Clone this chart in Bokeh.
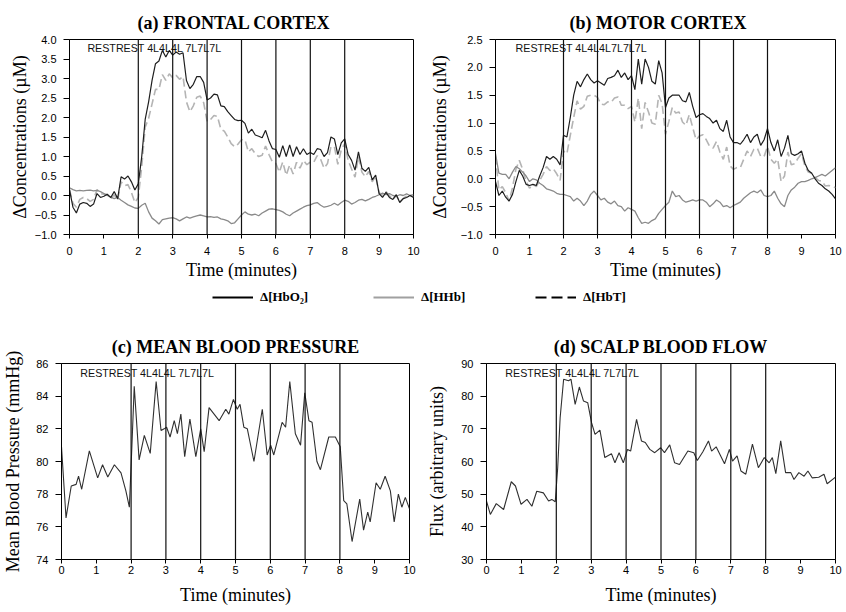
import numpy as np
from bokeh.plotting import figure
from bokeh.models import Span, Label, Legend, LegendItem, FixedTicker, Range1d
from bokeh.layouts import column, row
from bokeh.embed import file_html
from bokeh.resources import INLINE

# ---------------- data ----------------
# sampling grid (minutes) for the NIRS traces
t_nirs = np.round(np.arange(101) * 0.1, 1)

fc_hbo2 = [0.15, -0.3, -0.45, -0.22, -0.18, -0.2, -0.28, -0.22, 0.05, -0.05,
           -0.02, 0.03, -0.05, 0.1, -0.08, 0.48, 0.42, 0.5, 0.35, 0.14,
           0.3, 1.0, 1.95, 2.4, 2.95, 3.38, 3.45, 3.72, 3.55, 3.72,
           3.6, 3.68, 3.62, 3.66, 2.95, 2.74, 2.85, 3.05, 3.05, 2.9,
           2.45, 2.5, 2.6, 2.58, 2.3, 2.28, 2.15, 2.05, 1.95, 1.92,
           1.93, 1.85, 1.6, 1.7, 1.55, 1.52, 1.48, 1.67, 1.4, 1.2,
           1.18, 0.98, 1.28, 1.0, 1.3, 1.0, 1.25, 1.05, 1.2, 1.05,
           1.1, 1.05, 1.2, 1.18, 1.0, 1.1, 1.5, 1.45, 1.05, 1.35,
           1.45, 1.05, 0.9, 0.65, 1.12, 0.7, 0.62, 0.72, 0.4, 0.52,
           0.05, -0.05, 0.08, -0.05, -0.1, 0.02, -0.18, -0.08, -0.05, 0.0,
           -0.05]
fc_hhb = [0.2, 0.15, 0.12, 0.13, 0.12, 0.13, 0.14, 0.12, 0.13, 0.1,
          0.05, 0.0, -0.04, -0.08, -0.05, -0.12, -0.18, -0.24, -0.28, -0.32,
          -0.33, -0.25, -0.2, -0.42, -0.58, -0.65, -0.73, -0.62, -0.6, -0.58,
          -0.57, -0.6, -0.65, -0.6, -0.55, -0.58, -0.55, -0.52, -0.5, -0.52,
          -0.55, -0.54, -0.56, -0.55, -0.6, -0.62, -0.65, -0.72, -0.7, -0.6,
          -0.5, -0.42, -0.48, -0.5, -0.48, -0.52, -0.45, -0.4, -0.35, -0.34,
          -0.36, -0.38, -0.42, -0.48, -0.52, -0.45, -0.4, -0.35, -0.3, -0.26,
          -0.24, -0.2, -0.18, -0.25, -0.3, -0.28, -0.25, -0.2, -0.25, -0.18,
          -0.12, -0.15, -0.22, -0.18, -0.12, -0.1, -0.14, -0.1, -0.05, -0.02,
          0.02, 0.06, 0.02, 0.05, 0.0, -0.02, 0.02, 0.0, 0.04, 0.0,
          0.02]
fc_hbt = [0.15, -0.2, -0.3, -0.1, -0.05, -0.08, -0.15, -0.1, 0.15, 0.05,
          0.03, 0.03, -0.08, 0.02, -0.12, 0.35, 0.25, 0.28, 0.08, -0.18,
          -0.05, 0.75, 1.75, 1.98, 2.35, 2.72, 2.72, 3.1, 2.95, 3.12,
          3.02, 3.08, 2.98, 3.05, 2.4, 2.15, 2.3, 2.52, 2.55, 2.38,
          1.9, 1.95, 2.05, 2.03, 1.7, 1.65, 1.5, 1.33, 1.25, 1.32,
          1.43, 1.43, 1.12, 1.2, 1.07, 1.0, 1.03, 1.27, 1.05, 0.86,
          0.82, 0.6, 0.86, 0.52, 0.78, 0.55, 0.85, 0.7, 0.9, 0.79,
          0.86, 0.85, 1.02, 0.93, 0.7, 0.82, 1.25, 1.25, 0.8, 1.17,
          1.33, 0.9, 0.68, 0.47, 1.0, 0.6, 0.48, 0.62, 0.35, 0.5,
          0.07, 0.01, 0.1, 0.0, -0.1, 0.0, -0.16, -0.08, -0.01, 0.0,
          -0.03]

mc_hbo2 = [-0.05, -0.3, -0.22, -0.33, -0.4, -0.28, -0.05, 0.15, 0.05, -0.1,
           -0.12, -0.1, -0.12, 0.05, 0.2, 0.4, 0.35, 0.4, 0.35, 0.25,
           0.78, 0.75, 1.1, 1.5, 1.75, 1.65, 1.78, 1.88, 1.78, 1.72,
           1.76, 1.72, 1.68, 1.8, 1.82, 1.85, 1.95, 1.82, 1.9, 1.78,
           1.85, 1.6, 2.15, 1.7, 2.15, 2.0, 1.75, 1.7, 2.12, 1.9,
           1.28, 1.45, 1.5, 1.5, 1.5, 1.4, 1.38, 1.55, 1.3, 1.1,
           1.15, 1.17, 1.12, 1.08, 1.0, 1.05, 0.9, 0.85, 1.05, 0.75,
           0.65, 0.65, 0.62, 0.7, 0.8, 0.65, 0.75, 0.8, 0.6, 0.7,
           0.9, 0.65, 0.5, 0.7, 0.4, 0.55, 0.78, 0.45, 0.42, 0.45,
           0.5, 0.28, 0.15, 0.1, 0.0, -0.08, -0.12, -0.18, -0.22, -0.28,
           -0.36]
mc_hhb = [0.45, 0.1, 0.08, 0.08, 0.0, 0.12, 0.22, 0.18, 0.12, 0.05,
          -0.05, 0.0, -0.02, -0.08, -0.12, -0.18, -0.2, -0.22, -0.26, -0.28,
          -0.28, -0.3, -0.32, -0.4, -0.35, -0.4, -0.48, -0.4, -0.28, -0.22,
          -0.3, -0.38, -0.35, -0.42, -0.45, -0.4, -0.48, -0.5, -0.58, -0.52,
          -0.55, -0.58, -0.7, -0.8, -0.78, -0.8, -0.75, -0.72, -0.62, -0.55,
          -0.48, -0.42, -0.22, -0.32, -0.3, -0.38, -0.42, -0.4, -0.38, -0.4,
          -0.38, -0.38, -0.42, -0.5, -0.45, -0.38, -0.42, -0.5, -0.48, -0.52,
          -0.48, -0.45, -0.42, -0.35, -0.3, -0.25, -0.22, -0.25, -0.2, -0.3,
          -0.32, -0.3, -0.22, -0.35, -0.45, -0.5, -0.3, -0.2, -0.15, -0.08,
          -0.05, -0.05, -0.03, 0.0, 0.02, 0.05, 0.08, 0.05, 0.1, 0.15,
          0.2]
mc_hbt = [0.4, -0.2, -0.14, -0.25, -0.4, -0.16, 0.17, 0.33, 0.17, -0.05,
          -0.17, -0.1, -0.14, -0.03, 0.08, 0.22, 0.15, 0.18, 0.09, -0.03,
          0.5, 0.45, 0.78, 1.1, 1.4, 1.25, 1.3, 1.48, 1.5, 1.5,
          1.46, 1.34, 1.33, 1.38, 1.37, 1.45, 1.47, 1.32, 1.32, 1.26,
          1.3, 1.02, 1.45, 0.9, 1.37, 1.2, 1.0, 0.98, 1.5, 1.35,
          0.8, 1.03, 1.28, 1.18, 1.2, 1.02, 0.96, 1.15, 0.92, 0.7,
          0.77, 0.79, 0.7, 0.58, 0.55, 0.67, 0.48, 0.35, 0.57, 0.23,
          0.17, 0.2, 0.2, 0.35, 0.5, 0.4, 0.53, 0.55, 0.4, 0.4,
          0.58, 0.35, 0.28, 0.35, -0.05, 0.05, 0.48, 0.25, 0.27, 0.37,
          0.45, 0.23, 0.12, 0.1, 0.02, -0.03, -0.04, -0.13, -0.12, -0.13,
          -0.16]

bp_t = [0, 0.13, 0.28, 0.42, 0.49, 0.58, 0.8, 1.04, 1.18, 1.33,
        1.52, 1.71, 1.85, 1.95, 2.02, 2.09, 2.23, 2.38, 2.55, 2.72,
        2.86, 2.95, 3.02, 3.12, 3.24, 3.33, 3.43, 3.54, 3.69, 3.86,
        4.0, 4.1, 4.24, 4.53, 4.72, 4.81, 4.94, 5.05, 5.13, 5.24,
        5.34, 5.53, 5.77, 5.91, 6.01, 6.1, 6.34, 6.44, 6.56, 6.72,
        6.87, 6.99, 7.11, 7.2, 7.34, 7.44, 7.68, 7.87, 8.01, 8.11,
        8.2, 8.35, 8.57, 8.68, 8.8, 8.87, 9.04, 9.16, 9.3, 9.45,
        9.56, 9.68, 9.78, 9.88, 10.0]
bp_v = [80.9, 76.55, 78.5, 78.6, 79.1, 78.3, 80.65, 79.0, 79.8, 79.05,
        79.8, 79.3, 78.2, 77.2, 80.8, 84.6, 80.1, 81.6, 80.5, 84.9,
        81.9, 82.0, 82.1, 81.5, 82.5, 81.7, 82.9, 80.3, 82.6, 80.3,
        82.0, 80.6, 83.3, 82.5, 83.2, 82.9, 83.8, 83.2, 83.5, 82.1,
        82.0, 80.0, 83.2, 80.4, 81.0, 80.4, 82.4, 82.1, 84.9, 81.7,
        81.0, 84.2, 82.5, 82.4, 80.0, 79.5, 81.5, 81.5, 80.9, 77.6,
        77.4, 75.1, 77.7, 75.8, 76.9, 76.3, 78.7, 78.3, 79.1, 78.2,
        76.3, 78.0, 77.2, 77.8, 77.1]

fl_t = [0, 0.11, 0.28, 0.49, 0.71, 0.83, 0.99, 1.16, 1.3, 1.44,
        1.63, 1.78, 1.87, 1.97, 2.04, 2.11, 2.21, 2.35, 2.42, 2.54,
        2.66, 2.78, 2.9, 3.01, 3.11, 3.25, 3.39, 3.58, 3.68, 3.8,
        3.92, 4.04, 4.13, 4.3, 4.44, 4.55, 4.68, 4.82, 4.99, 5.1,
        5.25, 5.39, 5.53, 5.77, 5.94, 6.04, 6.2, 6.36, 6.45, 6.58,
        6.82, 6.96, 7.05, 7.18, 7.29, 7.43, 7.62, 7.79, 7.96, 8.1,
        8.19, 8.29, 8.43, 8.57, 8.72, 8.81, 8.95, 9.1, 9.21, 9.33,
        9.52, 9.67, 9.76, 10.0]
fl_v = [47.9, 43.8, 47.1, 45.3, 53.8, 52.5, 46.9, 48.4, 46.3, 50.9,
        50.4, 47.9, 48.4, 47.7, 58.1, 73.4, 85.2, 84.7, 85.2, 77.5,
        82.8, 78.5, 78.0, 71.9, 68.3, 69.6, 61.2, 62.4, 59.6, 62.7,
        59.6, 63.7, 63.2, 72.9, 66.3, 65.8, 63.7, 62.7, 64.2, 62.7,
        65.1, 59.6, 59.1, 63.2, 62.7, 60.3, 63.0, 66.3, 63.2, 64.5,
        59.3, 63.7, 60.1, 61.7, 57.1, 56.1, 65.3, 58.1, 61.2, 59.6,
        61.2, 56.3, 66.3, 56.6, 56.6, 54.5, 56.6, 55.5, 57.1, 55.0,
        55.2, 56.1, 53.2, 55.2]

event_times = [2, 3, 4, 5, 6, 7, 8]
x_ticks = [0, 1, 2, 3, 4, 5, 6, 7, 8, 9, 10]
yticks_a = [-1.0, -0.5, 0.0, 0.5, 1.0, 1.5, 2.0, 2.5, 3.0, 3.5, 4.0]
yticks_b = [-1.0, -0.5, 0.0, 0.5, 1.0, 1.5, 2.0, 2.5]
yticks_c = [74, 76, 78, 80, 82, 84, 86]
yticks_d = [30, 40, 50, 60, 70, 80, 90]

titles = ["(a) FRONTAL CORTEX", "(b) MOTOR CORTEX",
          "(c) MEAN BLOOD PRESSURE", "(d) SCALP BLOOD FLOW"]
ylabels = ["\u0394Concentrations (\u00b5M)", "\u0394Concentrations (\u00b5M)",
           "Mean Blood Pressure (mmHg)", "Flux (arbitrary units)"]
xlabel = "Time (minutes)"
protocol_a = "RESTREST 4L4L4L 7L7L7L"
protocol_b = "RESTREST 4L4L4L7L7L7L"
legend_labels = ["\u0394[HbO\u2082]", "\u0394[HHb]", "\u0394[HbT]"]

SERIF = "Liberation Serif"
SANS = "Liberation Sans"


def fmt(v, dec):
    s = f"{abs(v):.{dec}f}"
    return ("\u2212" + s) if v < 0 else s


def make_panel(title, ylabel, yticks, dec, width, height, bl, br, bt, bb,
               ylab_standoff, xtick_standoff, xlab_standoff,
               title_align, title_offset):
    p = figure(width=width, height=height, toolbar_location=None,
               output_backend="svg",
               x_range=Range1d(0, 10), y_range=Range1d(yticks[0], yticks[-1]),
               min_border_left=bl, min_border_right=br,
               min_border_top=bt, min_border_bottom=bb)
    p.title.text = title
    p.title.align = title_align
    p.title.offset = title_offset
    p.title.vertical_align = "top"
    p.title.text_line_height = 0.7
    p.title.text_font = SERIF
    p.title.text_font_size = "18px"
    p.title.text_font_style = "bold"
    p.title.text_color = "black"
    p.grid.visible = False
    p.outline_line_color = "black"
    p.outline_line_width = 1
    p.outline_line_alpha = 1
    p.xaxis.ticker = FixedTicker(ticks=x_ticks)
    p.yaxis.ticker = FixedTicker(ticks=yticks)
    p.yaxis.major_label_overrides = {v: fmt(v, dec) for v in yticks}
    p.xaxis.axis_label = xlabel
    p.yaxis.axis_label = ylabel
    for ax in (p.xaxis[0], p.yaxis[0]):
        ax.axis_line_color = "black"
        ax.major_tick_line_color = "black"
        ax.minor_tick_line_color = None
        ax.major_tick_in = 0
        ax.major_label_text_font = SANS
        ax.major_label_text_font_size = "11px"
        ax.major_label_text_color = "black"
        ax.axis_label_text_font = SERIF
        ax.axis_label_text_font_size = "18px"
        ax.axis_label_text_font_style = "normal"
        ax.axis_label_text_color = "black"
    p.xaxis.major_tick_out = 4
    p.yaxis.major_tick_out = 6
    p.xaxis.major_label_standoff = xtick_standoff
    p.yaxis.major_label_standoff = 7
    p.yaxis.axis_label_standoff = ylab_standoff
    p.xaxis.axis_label_standoff = xlab_standoff
    for et in event_times:
        p.add_layout(Span(location=et, dimension="height",
                          line_color="#111111", line_width=1.2))
    return p


def add_protocol(p, x, y, text):
    p.add_layout(Label(x=x, y=y, text=text, text_font=SANS,
                       text_font_size="10.7px", text_baseline="middle",
                       text_color="#111111"))


C_HBO2 = "#1e1e1e"
C_HHB = "#8a8a8a"
C_HBT = "#b4b4b4"

# (a) frontal cortex
pa = make_panel(titles[0], ylabels[0], yticks_a, 1, 426, 282, 69, 13, 39, 48, 2, 8, 2, "left", 68)
pa.line(t_nirs, fc_hbt, line_color=C_HBT, line_width=1.6, line_dash="8 4")
pa.line(t_nirs, fc_hhb, line_color=C_HHB, line_width=1.3)
pa.line(t_nirs, fc_hbo2, line_color=C_HBO2, line_width=1.2)
add_protocol(pa, 0.52, 3.77, protocol_a)

# (b) motor cortex
pb = make_panel(titles[1], ylabels[1], yticks_b, 1, 420, 282, 66, 11, 39, 48, 8, 8, 2, "left", 74)
pb.line(t_nirs, mc_hbt, line_color=C_HBT, line_width=1.6, line_dash="8 4")
pb.line(t_nirs, mc_hhb, line_color=C_HHB, line_width=1.3)
pb.line(t_nirs, mc_hbo2, line_color=C_HBO2, line_width=1.2)
add_protocol(pb, 0.59, 2.34, protocol_b)

# legend row (proxy renderers hold a single NaN so only the legend glyph shows)
nan_pt = np.array([np.nan])
pl = figure(width=846, height=32, toolbar_location=None, output_backend="svg",
            x_range=Range1d(0, 1), y_range=Range1d(0, 1), min_border=0,
            x_axis_location=None, y_axis_location=None)
pl.grid.visible = False
pl.outline_line_color = None
r1 = pl.line(x=nan_pt, y=nan_pt, line_color="black", line_width=2.2)
r2 = pl.line(x=nan_pt, y=nan_pt, line_color="#a0a0a0", line_width=2.2)
r3 = pl.line(x=nan_pt, y=nan_pt, line_color="black", line_width=2.2, line_dash="11 5")
for r, lab, xloc in zip([r1, r2, r3], legend_labels, [212, 373, 535]):
    lg = Legend(items=[LegendItem(label=lab, renderers=[r])], location=(xloc, 7),
                padding=0, margin=0, border_line_color=None,
                background_fill_alpha=0, glyph_width=41, glyph_height=20,
                label_height=20, label_standoff=7,
                label_text_font=SERIF, label_text_font_style="bold",
                label_text_font_size="13px", label_text_color="black")
    pl.add_layout(lg)

# (c) mean blood pressure
pc = make_panel(titles[2], ylabels[2], yticks_c, 0, 424, 297, 60, 15, 49, 52, 10, 2, 8, "center", 0)
pc.line(bp_t, bp_v, line_color="#303030", line_width=1.1)
add_protocol(pc, 0.54, 85.43, protocol_a)

# (d) scalp blood flow
pd_ = make_panel(titles[3], ylabels[3], yticks_d, 0, 422, 297, 60, 11, 49, 52, 11, 2, 8, "center", 0)
pd_.line(fl_t, fl_v, line_color="#303030", line_width=1.1)
add_protocol(pd_, 0.54, 87.05, protocol_a)

layout = column(row(pa, pb), pl, row(pc, pd_))
open("out.html", "w").write(file_html(layout, INLINE))
